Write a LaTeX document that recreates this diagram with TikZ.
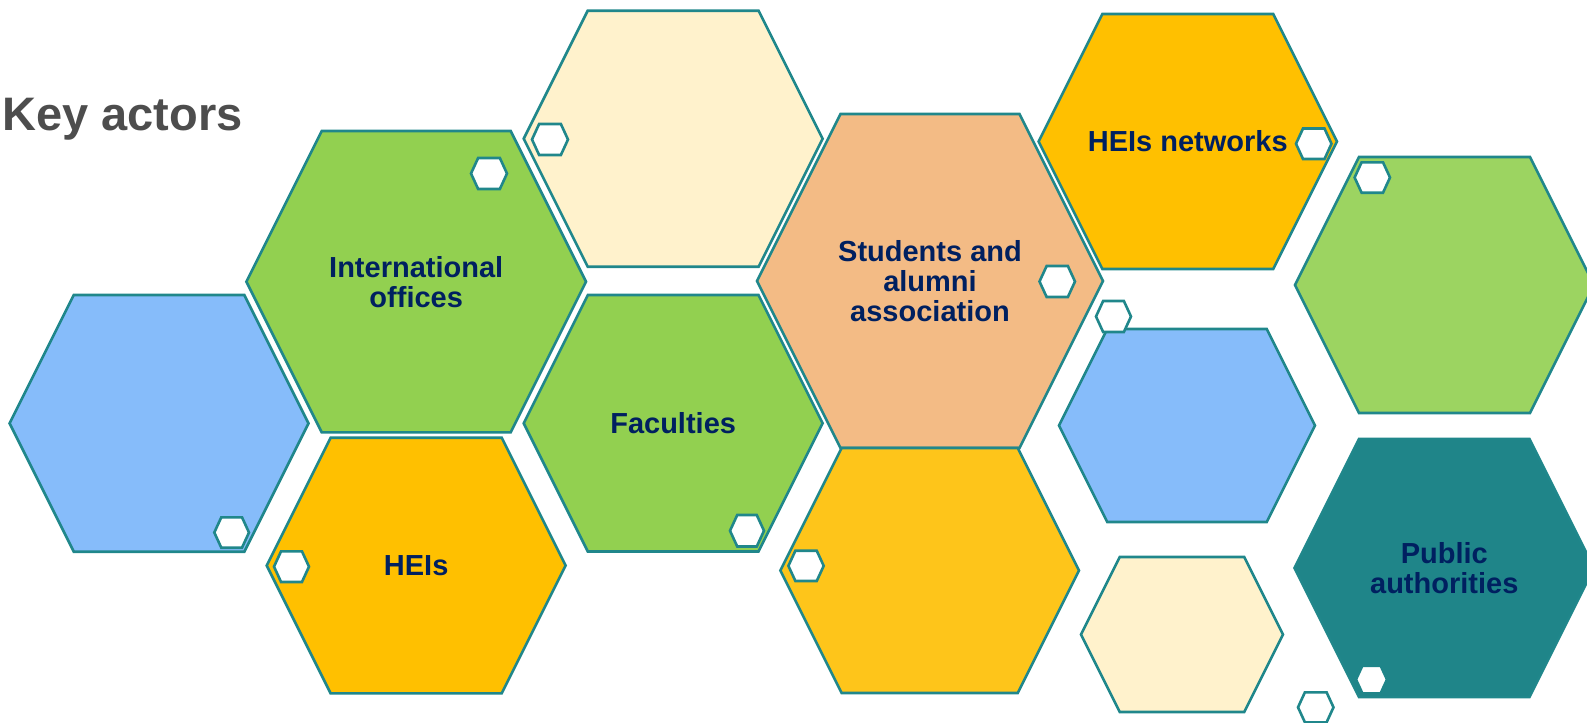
\documentclass[tikz,border=0pt]{standalone}
\usepackage{fontspec}
\setmainfont{Liberation Sans}
\definecolor{lineteal}{RGB}{32,135,139}
\definecolor{fillteal}{RGB}{31,133,137}
\definecolor{hexblue}{RGB}{134,188,250}
\definecolor{hexgreen}{RGB}{146,208,80}
\definecolor{hexgreenb}{RGB}{156,212,97}
\definecolor{hexyellow}{RGB}{255,192,0}
\definecolor{hexyellowb}{RGB}{254,197,26}
\definecolor{hexorange}{RGB}{243,187,133}
\definecolor{hexcream}{RGB}{255,242,204}
\definecolor{navytext}{RGB}{0,32,96}
\definecolor{titlegray}{RGB}{77,77,77}
\newcommand\hexshape[7]{%
  \pgfmathsetmacro\hxD{#7*min(#4-#2,#5-#3)}%
  \pgfmathsetmacro\hxM{(#3+#5)/2}%
  \pgfmathsetmacro\hxC{(#2+#4)/2}%
  \draw[#6] (#2,\hxM) -- ({#2+\hxD},#3) -- ({#4-\hxD},#3) -- (#4,\hxM) -- ({#4-\hxD},#5) -- ({#2+\hxD},#5) -- cycle;
  \coordinate (#1) at (\hxC,\hxM);
}
\tikzset{
  bighex/.style={draw=lineteal, line width=1.3pt, line join=miter},
  smallhex/.style={draw=lineteal, fill=white, line width=1.3pt, line join=miter},
  lbl/.style={text=navytext, font=\bfseries\fontsize{14.5}{15}\selectfont, align=center, inner sep=0pt},
  titletext/.style={text=titlegray, font=\bfseries\fontsize{23.5}{28}\selectfont, inner sep=0pt, anchor=base west}
}
\begin{document}
\begin{tikzpicture}[x=0.5pt,y=-0.5pt]
\useasboundingbox (0,0) rectangle (1587,723);
\clip (0,0) rectangle (1587,723);
% large hexagons
\hexshape{B1}{9.6}{295}{308.5}{551.7}{bighex, fill=hexblue}{0.25}
\hexshape{G1}{246.4}{131}{586}{432.3}{bighex, fill=hexgreen}{0.25}
\hexshape{A1}{523.7}{10.7}{822.6}{266.7}{bighex, fill=hexcream}{0.25}
\hexshape{G2}{523.7}{295}{822.6}{551.5}{bighex, fill=hexgreen}{0.25}
\hexshape{Y1}{266.7}{437.7}{565.6}{693.3}{bighex, fill=hexyellow}{0.25}
\hexshape{O1}{757}{114}{1103}{448}{bighex, fill=hexorange}{0.25}
\hexshape{Y2}{780.4}{448}{1079}{693}{bighex, fill=hexyellowb}{0.25}
\hexshape{Y3}{1038.6}{14}{1337}{269}{bighex, fill=hexyellow}{0.25}
\hexshape{B2}{1059}{329}{1315}{522}{bighex, fill=hexblue}{0.25}
\hexshape{C2}{1081}{557}{1283}{712}{bighex, fill=hexcream}{0.25}
\hexshape{G3}{1295}{157}{1594}{413}{bighex, fill=hexgreenb}{0.25}
\hexshape{T1}{1294.5}{439}{1594}{697}{bighex, fill=fillteal}{0.25}
% small hexagons
\hexshape{s1}{471}{158}{507}{189}{smallhex}{0.23}
\hexshape{s2}{532}{124}{568}{155}{smallhex}{0.23}
\hexshape{s3}{1039.5}{266}{1075}{297}{smallhex}{0.23}
\hexshape{s4}{1296}{128.5}{1331.5}{159}{smallhex}{0.23}
\hexshape{s5}{1354.6}{162.3}{1390}{192.7}{smallhex}{0.23}
\hexshape{s6}{1096}{301}{1131}{332}{smallhex}{0.23}
\hexshape{s7}{214.3}{517.3}{249}{547.7}{smallhex}{0.23}
\hexshape{s8}{274}{551.3}{309}{582}{smallhex}{0.23}
\hexshape{s9}{730}{515}{764}{546.5}{smallhex}{0.23}
\hexshape{s10}{788.4}{550.7}{823.7}{581}{smallhex}{0.23}
\hexshape{s11}{1356}{665.7}{1387}{693.3}{smallhex, draw=fillteal}{0.23}
\hexshape{s12}{1298}{692.3}{1333.5}{722.3}{smallhex}{0.23}
% labels
\node[titletext] (title) at (2,130) {Key actors};
\node[lbl] (tG1) at (G1) {International\\offices};
\node[lbl] (tY1) at (Y1) {HEIs};
\node[lbl] (tG2) at (G2) {Faculties};
\node[lbl] (tO1) at (O1) {Students and\\alumni\\association};
\node[lbl] (tY3) at (Y3) {HEIs networks};
\node[lbl] (tT1) at (T1) {Public\\authorities};
\end{tikzpicture}
\end{document}
